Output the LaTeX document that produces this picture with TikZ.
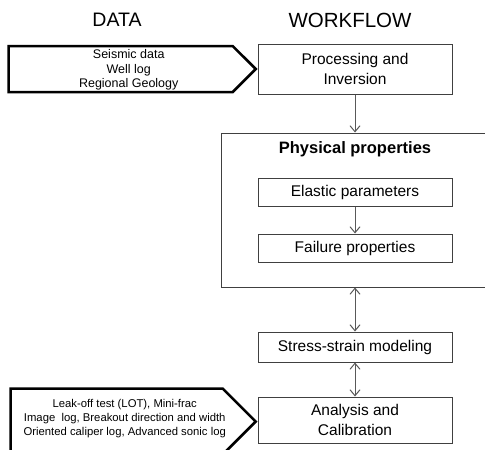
\documentclass[tikz,border=0pt]{standalone}
\usepackage{fontspec}
\setmainfont{Liberation Sans}
\usetikzlibrary{positioning, arrows.meta, shapes.symbols}
\definecolor{boxline}{RGB}{64, 64, 64}
\definecolor{arrowline}{RGB}{89, 89, 89}
\definecolor{text}{RGB}{0, 0, 0}

\begin{document}
\begin{tikzpicture}[x=1pt, y=-1pt,
    every node/.style={font=\fontsize{15.5}{20}\selectfont, text=text},
    flowbox/.style={draw=boxline, line width=1pt, minimum width=194pt, align=center, inner sep=2pt},
    datasig/.style={draw=black, line width=2.5pt, signal, signal to=east, signal pointer angle=90},
    flowarrow/.style={draw=arrowline, line width=1pt, -{Straight Barb[length=6pt, width=10pt]}},
    bothway/.style={flowarrow, {Straight Barb[length=6pt, width=10pt]}-{Straight Barb[length=6pt, width=10pt]}}]
    \useasboundingbox (0,0) rectangle (485,450);
    % Titles
    \node (datatitle) at (117,20) {\fontsize{19.5}{24}\selectfont DATA};
    \node (flowtitle) at (350,20) {\fontsize{20.5}{24}\selectfont WORKFLOW};

    % Workflow column
    \node[flowbox, minimum height=50pt] (proc) at (355,69) {Processing and\\Inversion};
    \node[draw=boxline, line width=1pt, minimum width=274pt, minimum height=154pt] (phys) at (358,210) {};
    \node[font=\fontsize{16.5}{20}\selectfont\bfseries] (physttl) at (355,149) {Physical properties};
    \node[flowbox, minimum height=28pt] (elast) at (355,192) {Elastic parameters};
    \node[flowbox, minimum height=28pt] (fail) at (355,248) {Failure properties};
    \node[flowbox, minimum height=30pt] (stress) at (355,347) {Stress-strain modeling};
    \node[flowbox, minimum height=46pt] (calib) at (355,420) {Analysis and\\Calibration};

    % Data inputs
    \node[datasig, minimum width=247pt, minimum height=46pt, left=0pt of proc.west] (data1) {};
    \node[align=center, font=\fontsize{12.5}{14.3}\selectfont] (data1txt) at ([xshift=8pt, yshift=-1pt]data1.center) {Seismic data\\Well log\\Regional Geology};
    \node[datasig, minimum width=245pt, minimum height=66pt, left=0pt of calib.west, yshift=-1.5pt] (data2) {};
    \node[align=center, font=\fontsize{11.3}{14}\selectfont] (data2txt) at ([xshift=8pt, yshift=1.5pt]calib.west -| data2.center) {Leak-off test (LOT), Mini-frac\\Image~ log, Breakout direction and width\\Oriented caliper log, Advanced sonic log};

    % Arrows
    \draw[flowarrow] (proc) -- (proc.south |- phys.north);
    \draw[flowarrow] (elast) -- (fail);
    \draw[bothway] (stress.north |- phys.south) -- (stress);
    \draw[bothway] (stress) -- (calib);
\end{tikzpicture}
\end{document}
